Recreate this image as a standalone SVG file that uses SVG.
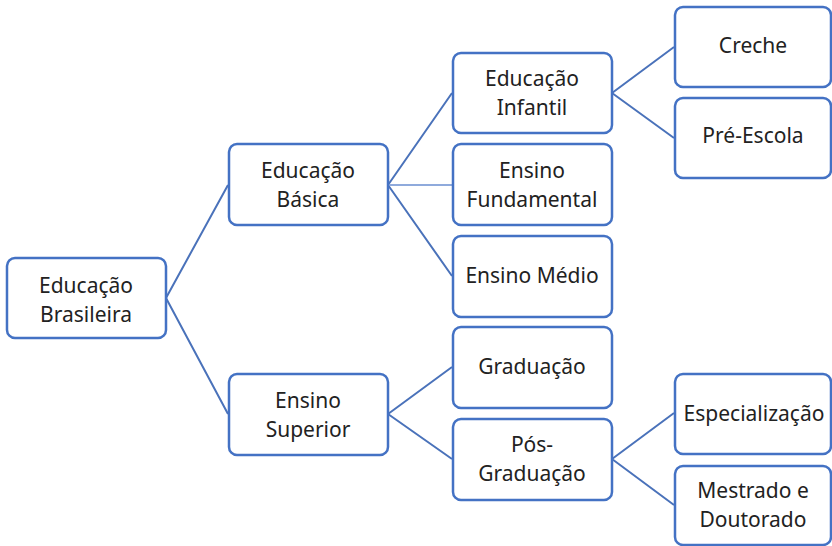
<svg xmlns="http://www.w3.org/2000/svg" width="832" height="546" viewBox="0 0 832 546">
<style>
.box{fill:#fff;stroke:#4472C4;stroke-width:2.5}
.t{font-family:"Noto Sans","Open Sans",sans-serif;font-size:21px;fill:#222;text-anchor:middle}
.c{stroke:#4A72BA;stroke-width:2;fill:none}
.cl{stroke:#8FAADC;stroke-width:2;fill:none}
</style>
<rect width="832" height="546" fill="#fff"/>
<g id="connectors">
<path class="c" d="M166 298L228 185M166 298L228 414"/>
<path class="c" d="M388 185L452 93M388 185L452 276"/>
<path class="cl" d="M388 185L452 185"/>
<path class="c" d="M388 414L452 367M388 414L452 459"/>
<path class="c" d="M612 93L674 47M612 93L674 138"/>
<path class="c" d="M612 459L674 413M612 459L674 505"/>
</g>
<g id="n-brasileira"><rect class="box" x="7" y="258" width="159" height="80" rx="8"/><text class="t" x="86" y="293">Educação</text><text class="t" x="86" y="322">Brasileira</text></g>
<g id="n-basica"><rect class="box" x="229" y="144" width="159" height="81" rx="8"/><text class="t" x="308" y="178">Educação</text><text class="t" x="308" y="207">Básica</text></g>
<g id="n-superior"><rect class="box" x="229" y="374" width="159" height="81" rx="8"/><text class="t" x="308" y="408">Ensino</text><text class="t" x="308" y="437">Superior</text></g>
<g id="n-infantil"><rect class="box" x="453" y="53" width="159" height="80" rx="8"/><text class="t" x="532" y="86">Educação</text><text class="t" x="532" y="115">Infantil</text></g>
<g id="n-fundamental"><rect class="box" x="453" y="144" width="159" height="81" rx="8"/><text class="t" x="532" y="178">Ensino</text><text class="t" x="532" y="207">Fundamental</text></g>
<g id="n-medio"><rect class="box" x="453" y="236" width="159" height="81" rx="8"/><text class="t" x="532" y="283">Ensino Médio</text></g>
<g id="n-graduacao"><rect class="box" x="453" y="327" width="159" height="81" rx="8"/><text class="t" x="532" y="374">Graduação</text></g>
<g id="n-posgraduacao"><rect class="box" x="453" y="419" width="159" height="81" rx="8"/><text class="t" x="532" y="452">Pós-</text><text class="t" x="532" y="481">Graduação</text></g>
<g id="n-creche"><rect class="box" x="675" y="7" width="156" height="80" rx="8"/><text class="t" x="753" y="53">Creche</text></g>
<g id="n-preescola"><rect class="box" x="675" y="98" width="156" height="80" rx="8"/><text class="t" x="753" y="143">Pré-Escola</text></g>
<g id="n-especializacao"><rect class="box" x="675" y="374" width="156" height="80" rx="8"/><text class="t" x="754" y="421">Especialização</text></g>
<g id="n-mestrado"><rect class="box" x="675" y="466" width="156" height="79" rx="8"/><text class="t" x="753" y="498">Mestrado e</text><text class="t" x="753" y="527">Doutorado</text></g>
</svg>
